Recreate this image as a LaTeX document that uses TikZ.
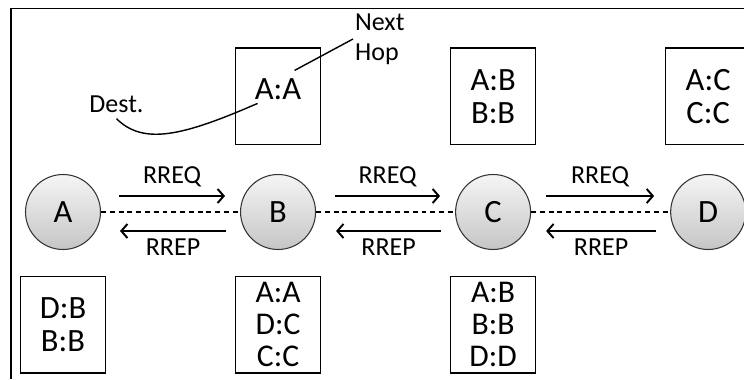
\documentclass[tikz,border=0pt]{standalone}
\usepackage{fontspec}
\setmainfont{Carlito}
\usetikzlibrary{positioning,calc,arrows.meta}
\colorlet{stationtop}{gray!8}
\colorlet{stationbottom}{gray!45}

\begin{document}
\begin{tikzpicture}
  [station/.style={
    circle,
    draw=black!80,
    line width=0.6pt,
    top color=stationtop,
    bottom color=stationbottom,
    minimum size=1.5cm,
    inner sep=0pt,
    font=\fontsize{18.5}{20}\selectfont
    },
   routes/.style={
    rectangle,
    draw,
    line width=0.9pt,
    minimum width=1.7cm,
    minimum height=1.93cm,
    inner sep=0pt,
    align=center,
    font=\fontsize{18.5}{#1}\selectfont
    },
   routes/.default=18.7,
   link/.style={line width=0.7pt, dash pattern=on 2.8pt off 2.2pt},
   msg/.style={line width=1.1pt, -{Straight Barb[length=3.5pt,width=8pt]}},
   tag/.style={font=\fontsize{14.8}{16}\selectfont},
   note/.style={font=\fontsize{14.8}{17}\selectfont}
  ]
  \useasboundingbox (0,0) rectangle (14.88,7.58);
  \draw[line width=1.1pt] (0.22,0) -- (0.22,7.41) -- (14.88,7.41); % cornice

  % nodi della rete
  \node [station] (A) at (1.26,3.34) {A};
  \node [station, right=2.78cm of A] (B) {B};
  \node [station, right=2.78cm of B] (C) {C};
  \node [station, right=2.78cm of C] (D) {D};

  \draw[link] (A) -- (B);
  \draw[link] (B) -- (C);
  \draw[link] (C) -- (D);

  % tabelle di instradamento
  \node [routes, text depth=0.3cm, above=0.57cm of B] (tabBup) {A:A};
  \node [routes, above=0.57cm of C] (tabCup) {A:B\\B:B};
  \node [routes, above=0.57cm of D] (tabDup) {A:C\\C:C};

  \node [routes, below=0.51cm of A] (tabAdown) {D:B\\B:B};
  \node [routes=18.2, below=0.51cm of B, font=\fontsize{18}{18.2}\selectfont] (tabBdown) {A:A\\D:C\\C:C};
  \node [routes=18.2, below=0.51cm of C, font=\fontsize{18}{18.2}\selectfont] (tabCdown) {A:B\\B:B\\D:D};

  % messaggi
  \draw[msg] ($(A.east) + (0.36,0.32)$) -- ($(B.west) + (-0.3,0.32)$) node[midway, above=1pt, tag] {RREQ};
  \draw[msg] ($(B.east) + (0.38,0.32)$) -- ($(C.west) + (-0.3,0.32)$) node[midway, above=1pt, tag] {RREQ};
  \draw[msg] ($(C.east) + (0.3,0.32)$) -- ($(D.west) + (-0.32,0.32)$) node[midway, above=1pt, tag] {RREQ};

  \draw[msg] ($(B.west) + (-0.28,-0.38)$) -- ($(A.east) + (0.38,-0.38)$) node[midway, below=0.5pt, tag] {RREP};
  \draw[msg] ($(C.west) + (-0.28,-0.38)$) -- ($(B.east) + (0.4,-0.38)$) node[midway, below=0.5pt, tag] {RREP};
  \draw[msg] ($(D.west) + (-0.28,-0.38)$) -- ($(C.east) + (0.3,-0.38)$) node[midway, below=0.5pt, tag] {RREP};

  % legenda
  \node [note] (dest) at (2.33,5.5) {Dest.};
  \coordinate (destend) at ($(tabBup.center) + (-0.41,-0.14)$);
  \draw[line width=0.8pt] (dest.south) .. controls ($(dest.south) + (0.54,-0.54)$) and ($(dest.south) + (1.34,-0.34)$) .. (destend);

  \node [note, align=left, anchor=west, inner sep=1pt] (hop) at (7.06,6.8) {Next\\Hop};
  \coordinate (hopend) at ($(tabBup.center) + (0.33,0.52)$);
  \draw[line width=0.8pt] (hop.west) -- (hopend);
\end{tikzpicture}
\end{document}
